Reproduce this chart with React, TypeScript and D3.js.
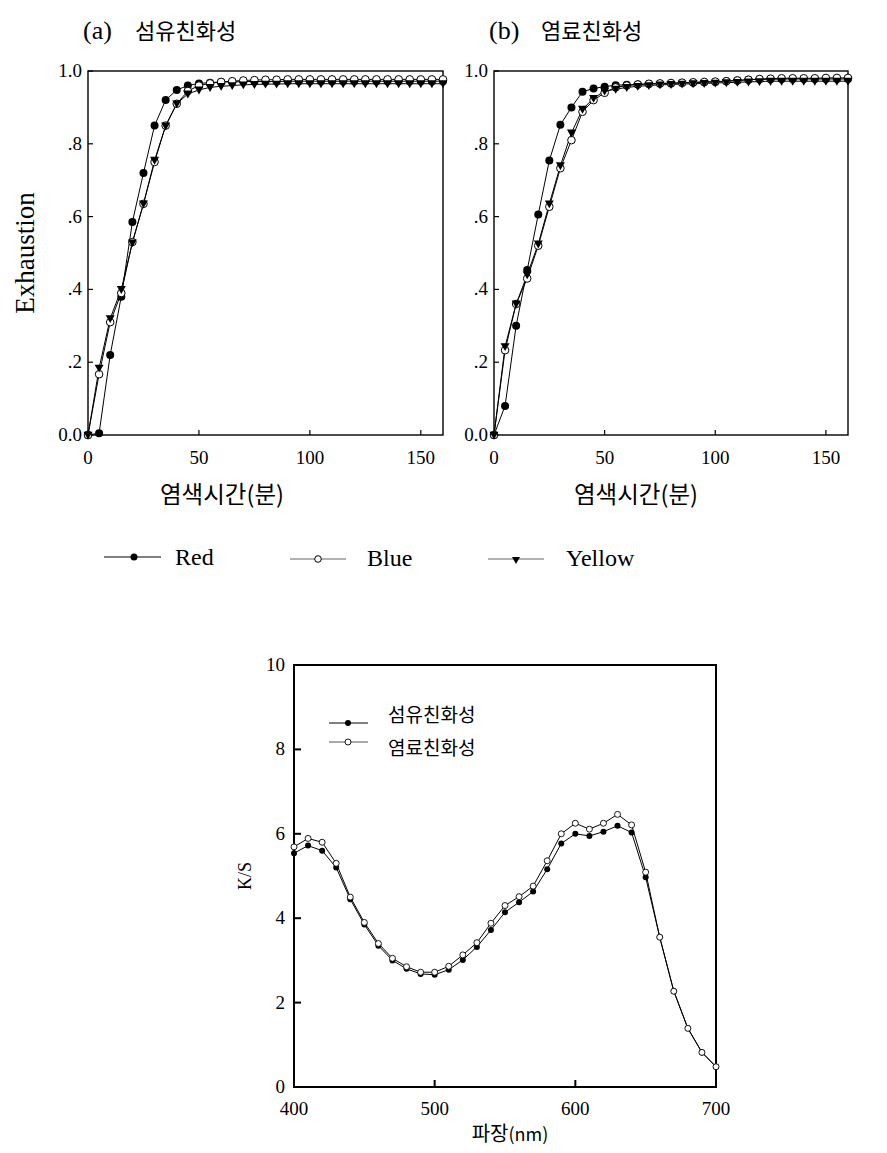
import React from "react";
import * as d3 from "d3";

// ---------- Data: exhaustion vs dyeing time ----------
const times = [0, 5, 10, 15, 20, 25, 30, 35, 40, 45, 50, 55, 60, 65, 70, 75, 80, 85, 90, 95, 100, 105, 110, 115, 120, 125, 130, 135, 140, 145, 150, 155, 160];

const redA = [0, 0.005, 0.22, 0.38, 0.585, 0.72, 0.85, 0.92, 0.948, 0.96, 0.966, 0.968, 0.97, 0.97, 0.971, 0.971, 0.971, 0.971, 0.972, 0.972, 0.972, 0.972, 0.972, 0.972, 0.972, 0.972, 0.972, 0.972, 0.972, 0.972, 0.972, 0.972, 0.972];
const blueA = [0, 0.167, 0.31, 0.39, 0.53, 0.635, 0.75, 0.85, 0.91, 0.945, 0.96, 0.966, 0.97, 0.972, 0.974, 0.975, 0.976, 0.976, 0.977, 0.977, 0.977, 0.977, 0.977, 0.977, 0.977, 0.977, 0.977, 0.977, 0.977, 0.977, 0.977, 0.977, 0.977];
const yellowA = [0, 0.184, 0.32, 0.4, 0.528, 0.635, 0.755, 0.849, 0.91, 0.937, 0.948, 0.955, 0.958, 0.96, 0.962, 0.963, 0.964, 0.964, 0.965, 0.965, 0.965, 0.965, 0.965, 0.965, 0.965, 0.965, 0.965, 0.965, 0.965, 0.965, 0.965, 0.965, 0.965];

const redB = [0, 0.08, 0.3, 0.453, 0.606, 0.754, 0.852, 0.9, 0.943, 0.952, 0.957, 0.961, 0.962, 0.963, 0.964, 0.965, 0.966, 0.967, 0.968, 0.969, 0.97, 0.972, 0.974, 0.976, 0.977, 0.977, 0.978, 0.978, 0.978, 0.978, 0.978, 0.978, 0.978];
const blueB = [0, 0.233, 0.36, 0.43, 0.52, 0.627, 0.733, 0.81, 0.888, 0.92, 0.94, 0.955, 0.96, 0.963, 0.965, 0.966, 0.967, 0.968, 0.969, 0.97, 0.971, 0.972, 0.974, 0.976, 0.978, 0.979, 0.98, 0.98, 0.98, 0.98, 0.981, 0.981, 0.981];
const yellowB = [0, 0.243, 0.36, 0.44, 0.525, 0.635, 0.74, 0.83, 0.895, 0.925, 0.945, 0.95, 0.955, 0.958, 0.96, 0.962, 0.963, 0.964, 0.965, 0.966, 0.967, 0.968, 0.969, 0.97, 0.971, 0.972, 0.972, 0.972, 0.972, 0.972, 0.972, 0.972, 0.972];

const timeTicks = [0, 50, 100, 150];
const exhTicks = [0, 0.2, 0.4, 0.6, 0.8, 1.0];
const exhTickLabels = ["0.0", ".2", ".4", ".6", ".8", "1.0"];

const panelTitles = ["(a)", "(b)"];
const panelNames = ["섬유친화성", "염료친화성"];
const seriesNames = ["Red", "Blue", "Yellow"];

// ---------- Data: K/S vs wavelength ----------
const wavelengths = [400, 410, 420, 430, 440, 450, 460, 470, 480, 490, 500, 510, 520, 530, 540, 550, 560, 570, 580, 590, 600, 610, 620, 630, 640, 650, 660, 670, 680, 690, 700];
const ksFiber = [5.54, 5.72, 5.6, 5.2, 4.45, 3.85, 3.35, 3.0, 2.8, 2.68, 2.66, 2.78, 3.01, 3.32, 3.72, 4.14, 4.38, 4.63, 5.16, 5.77, 6.0, 5.95, 6.05, 6.19, 6.03, 4.97, 3.55, 2.27, 1.39, 0.82, 0.48];
const ksDye = [5.69, 5.89, 5.8, 5.3, 4.5, 3.9, 3.4, 3.05, 2.85, 2.72, 2.72, 2.86, 3.13, 3.42, 3.88, 4.3, 4.51, 4.76, 5.36, 6.0, 6.25, 6.11, 6.25, 6.46, 6.21, 5.09, 3.55, 2.27, 1.39, 0.82, 0.48];
const waveTicks = [400, 500, 600, 700];
const ksTicks = [0, 2, 4, 6, 8, 10];
const ksLegend = ["섬유친화성", "염료친화성"];

const SERIF = "'Liberation Serif', 'Times New Roman', serif";
const KR = "'Noto Sans CJK KR', 'Noto Sans', sans-serif";

function tri(x: number, y: number, s = 4.5) {
  return `M${x - s},${y - s * 0.75}L${x + s},${y - s * 0.75}L${x},${y + s}Z`;
}

function Panel({ x0, x1, title, name, red, blue, yellow, labelX, axisTitle }: any) {
  const xs = d3.scaleLinear().domain([0, 160]).range([x0, x1]);
  const ys = d3.scaleLinear().domain([0, 1]).range([435, 71]);
  const line = (vals: number[]) =>
    d3.line<number>().x((_, i) => xs(times[i])).y((v) => ys(v))(vals) || "";
  return (
    <g>
      <text x={x0 - 5} y={39} fontFamily={SERIF} fontSize={26}>{title}</text>
      <text x={x0 + 47} y={39} fontFamily={KR} fontSize={22}>{name}</text>
      {/* frame */}
      <rect x={x0} y={71} width={x1 - x0} height={364} fill="none" stroke="#000" strokeWidth={1.4} />
      {exhTicks.map((t, i) => (
        <g key={"y" + i}>
          <line x1={x0} x2={x0 + 5} y1={ys(t)} y2={ys(t)} stroke="#000" strokeWidth={1.2} />
          <text x={x0 - 6} y={ys(t) + 6} textAnchor="end" fontFamily={SERIF} fontSize={19}>{exhTickLabels[i]}</text>
        </g>
      ))}
      {timeTicks.map((t, i) => (
        <g key={"x" + i}>
          <line x1={xs(t)} x2={xs(t)} y1={435} y2={430} stroke="#000" strokeWidth={1.2} />
          <text x={xs(t)} y={464} textAnchor="middle" fontFamily={SERIF} fontSize={19}>{t}</text>
        </g>
      ))}
      <text x={labelX} y={503} textAnchor="middle" fontFamily={KR} fontSize={23.5}>{axisTitle}</text>
      {/* series */}
      <path d={line(red)} fill="none" stroke="#000" strokeWidth={1} />
      <path d={line(blue)} fill="none" stroke="#000" strokeWidth={1} />
      <path d={line(yellow)} fill="none" stroke="#000" strokeWidth={1} />
      {red.map((v: number, i: number) => (
        <circle key={"r" + i} cx={xs(times[i])} cy={ys(v)} r={4} fill="#000" />
      ))}
      {blue.map((v: number, i: number) => (
        <circle key={"b" + i} cx={xs(times[i])} cy={ys(v)} r={3.8} fill="#fff" stroke="#000" strokeWidth={1} />
      ))}
      {yellow.map((v: number, i: number) => (
        <path key={"t" + i} d={tri(xs(times[i]), ys(v))} fill="#000" />
      ))}
    </g>
  );
}

function KSChart() {
  const xs = d3.scaleLinear().domain([400, 700]).range([294, 716]);
  const ys = d3.scaleLinear().domain([0, 10]).range([1087, 665]);
  const line = (vals: number[]) =>
    d3.line<number>().x((_, i) => xs(wavelengths[i])).y((v) => ys(v))(vals) || "";
  return (
    <g>
      <rect x={294} y={665} width={422} height={422} fill="none" stroke="#000" strokeWidth={2} />
      {ksTicks.map((t, i) => (
        <g key={"y" + i}>
          <line x1={294} x2={301} y1={ys(t)} y2={ys(t)} stroke="#000" strokeWidth={2} />
          <text x={285} y={ys(t) + 6} textAnchor="end" fontFamily={SERIF} fontSize={19}>{t}</text>
        </g>
      ))}
      {waveTicks.map((t, i) => (
        <g key={"x" + i}>
          <line x1={xs(t)} x2={xs(t)} y1={1087} y2={1080} stroke="#000" strokeWidth={2} />
          <text x={xs(t)} y={1115} textAnchor="middle" fontFamily={SERIF} fontSize={19}>{t}</text>
        </g>
      ))}
      <text x={510} y={1141} textAnchor="middle" fontFamily={KR} fontSize={20}>
        파장<tspan fontSize={18}>(nm)</tspan>
      </text>
      <text transform="translate(251,876) rotate(-90)" textAnchor="middle" fontFamily={SERIF} fontSize={18}>K/S</text>
      {/* legend */}
      <line x1={329} x2={368} y1={723} y2={723} stroke="#000" strokeWidth={1} />
      <circle cx={348} cy={723} r={3} fill="#000" />
      <text x={388} y={722} fontFamily={KR} fontSize={19}>{ksLegend[0]}</text>
      <line x1={329} x2={368} y1={742} y2={742} stroke="#555" strokeWidth={1} />
      <circle cx={348} cy={742} r={3} fill="#fff" stroke="#000" strokeWidth={0.9} />
      <text x={388} y={755} fontFamily={KR} fontSize={19}>{ksLegend[1]}</text>
      {/* series */}
      <path d={line(ksFiber)} fill="none" stroke="#000" strokeWidth={1} />
      <path d={line(ksDye)} fill="none" stroke="#000" strokeWidth={1} />
      {ksFiber.map((v, i) => (
        <circle key={"f" + i} cx={xs(wavelengths[i])} cy={ys(v)} r={3} fill="#000" />
      ))}
      {ksDye.map((v, i) => (
        <circle key={"d" + i} cx={xs(wavelengths[i])} cy={ys(v)} r={3} fill="#fff" stroke="#000" strokeWidth={0.9} />
      ))}
    </g>
  );
}

export default function App() {
  return (
    <svg width={887} height={1153} style={{ position: "absolute", left: 0, top: 0, background: "#fff" }}>
      <rect width={887} height={1153} fill="#fff" />
      <Panel x0={88} x1={443} title={panelTitles[0]} name={panelNames[0]} red={redA} blue={blueA} yellow={yellowA} labelX={222} axisTitle="염색시간(분)" />
      <Panel x0={494} x1={848} title={panelTitles[1]} name={panelNames[1]} red={redB} blue={blueB} yellow={yellowB} labelX={636} axisTitle="염색시간(분)" />
      <text transform="translate(34,253) rotate(-90)" textAnchor="middle" fontFamily={SERIF} fontSize={27}>Exhaustion</text>
      {/* top legend */}
      <line x1={104} x2={161} y1={557} y2={557} stroke="#000" strokeWidth={1.2} />
      <circle cx={134} cy={557} r={3.5} fill="#000" />
      <text x={175} y={565} fontFamily={SERIF} fontSize={24}>{seriesNames[0]}</text>
      <line x1={290} x2={346} y1={559} y2={559} stroke="#666" strokeWidth={1.2} />
      <circle cx={318} cy={559} r={3.3} fill="#fff" stroke="#000" strokeWidth={1} />
      <text x={367} y={566} fontFamily={SERIF} fontSize={24}>{seriesNames[1]}</text>
      <line x1={488} x2={544} y1={559} y2={559} stroke="#666" strokeWidth={1.2} />
      <path d={tri(516, 560, 4)} fill="#000" />
      <text x={566} y={566} fontFamily={SERIF} fontSize={24}>{seriesNames[2]}</text>
      <KSChart />
    </svg>
  );
}
